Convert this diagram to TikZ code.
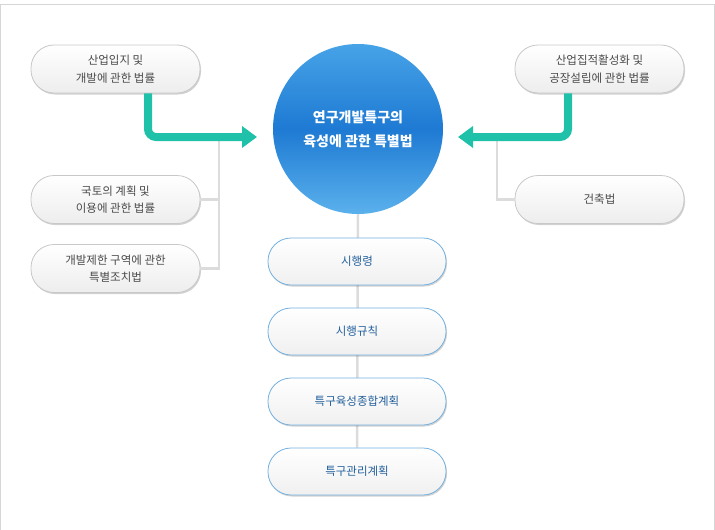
\documentclass[tikz,border=0pt]{standalone}
\usepackage{fontspec}
\setmainfont{Noto Sans CJK KR}
\usetikzlibrary{arrows.meta,shadows,calc,backgrounds}
\definecolor{teal1}{HTML}{20C1A9}
\definecolor{grayline}{HTML}{DCDCDC}
\definecolor{frame}{HTML}{D6D6D6}
\definecolor{pillborder}{HTML}{C8C8C8}
\definecolor{pilltext}{HTML}{4A4A4A}
\definecolor{bluebord}{HTML}{74B1E0}
\definecolor{bluetext}{HTML}{23609C}
\definecolor{circtop}{HTML}{47A3E7}
\definecolor{circmid}{HTML}{1E7AD3}
\definecolor{circbot}{HTML}{5BB1EC}
\begin{document}
\begin{tikzpicture}[x=1pt,y=-1pt,
  graypill/.style={draw=pillborder, line width=0.8pt, rounded corners=23pt,
    minimum width=169pt, minimum height=48pt, align=center,
    top color=white, bottom color=black!7, text=pilltext,
    font=\fontsize{11.5}{17.5}\selectfont,
    drop shadow={shadow xshift=1pt, shadow yshift=-1.5pt, opacity=0.18, fill=black}},
  bluepill/.style={draw=bluebord, line width=0.8pt, rounded corners=23pt,
    minimum width=178pt, minimum height=47pt, align=center,
    top color=white, bottom color=black!6, text=bluetext,
    font=\fontsize{11.5}{17.5}\selectfont,
    drop shadow={shadow xshift=1pt, shadow yshift=-1.5pt, opacity=0.18, fill=black}},
  conn/.style={draw=grayline, line width=2.5pt},
  tealarrow/.style={draw=teal1, line width=8pt, rounded corners=8pt,
    -{Triangle[length=15pt,width=21pt]}}
]
\useasboundingbox (0,0) rectangle (715,530);
\draw[frame, line width=1pt] (0.5,545) -- (0.5,4.5) -- (714,4.5) -- (714,545);

\node[circle, minimum size=170pt, inner sep=0pt, top color=circtop, bottom color=circbot,
  middle color=circmid, text=white, align=center,
  font=\bfseries\fontsize{14}{24}\selectfont] (circ) at (358,129)
  {연구개발특구의\\육성에 관한 특별법};

\coordinate (lj) at (219,137);
\coordinate (rj) at (497,137);
\coordinate (la) at (257,137);
\coordinate (ra) at (458,137);

\node[bluepill] (c1) at (357,261.5) {시행령};
\node[bluepill] (c2) at (357,331.5) {시행규칙};
\node[bluepill] (c3) at (357,401.5) {특구육성종합계획};
\node[bluepill] (c4) at (357,471.5) {특구관리계획};

\begin{scope}[on background layer]
\draw[conn] (circ.south) -- (c4.north);
\end{scope}

\node[graypill] (l1) at (115.5,69) {산업입지 및\\개발에 관한 법률};
\node[graypill] (l2) at (115.5,199.5) {국토의 계획 및\\이용에 관한 법률};
\node[graypill] (l3) at (115.5,268.5) {개발제한 구역에 관한\\특별조치법};
\node[graypill] (r1) at (599.5,69) {산업집적활성화 및\\공장설립에 관한 법률};
\node[graypill] (r2) at (599.5,199.5) {건축법};

\draw[conn] (lj) |- (l3.east);
\draw[conn] (l2.east) -- (l2.east -| lj);
\draw[conn] (rj) |- (r2.west);

\draw[tealarrow] ([xshift=32.5pt]l1.south) |- (la);
\draw[tealarrow] ([xshift=-31.5pt]r1.south) |- (ra);
\end{tikzpicture}
\end{document}
